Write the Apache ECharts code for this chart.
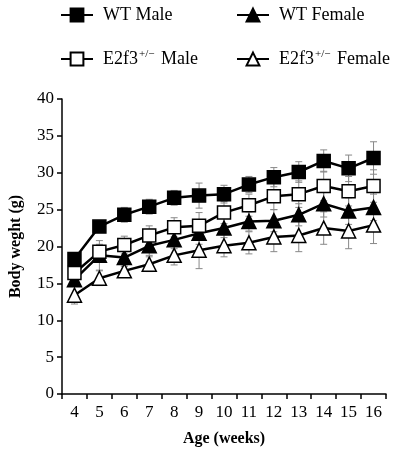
<!DOCTYPE html>
<html>
<head>
<meta charset="utf-8">
<script src="https://cdn.jsdelivr.net/npm/echarts@6/dist/echarts.min.js"></script>
<style>
  html, body { margin: 0; padding: 0; background: #fff; }
  #chart { width: 398px; height: 453px; }
</style>
</head>
<body>
<div id="chart"></div>
<script>
const weeks = ['4', '5', '6', '7', '8', '9', '10', '11', '12', '13', '14', '15', '16'];

const wtMale = [18.3, 22.7, 24.3, 25.4, 26.6, 26.9, 27.1, 28.4, 29.4, 30.1, 31.6, 30.6, 32.0];
const wtMaleErr = [0.6, 0.8, 1.0, 1.0, 1.0, 1.7, 1.2, 1.1, 1.3, 1.4, 1.5, 1.8, 2.2];

const koMale = [16.4, 19.3, 20.2, 21.5, 22.6, 22.8, 24.6, 25.6, 26.8, 27.1, 28.2, 27.5, 28.2];
const koMaleErr = [0.6, 1.0, 1.2, 1.3, 1.3, 1.8, 1.5, 1.5, 1.8, 1.8, 2.0, 2.0, 2.2];

const wtFemale = [15.5, 18.8, 18.5, 20.1, 20.9, 21.8, 22.5, 23.4, 23.5, 24.3, 25.8, 24.8, 25.3];
const wtFemaleErr = [0.8, 2.0, 1.2, 1.3, 1.2, 1.5, 1.3, 1.3, 1.5, 1.5, 1.8, 1.8, 1.8];

const koFemale = [13.4, 15.7, 16.7, 17.6, 18.8, 19.5, 20.1, 20.5, 21.3, 21.5, 22.5, 22.1, 22.9];
const koFemaleErr = [1.2, 1.0, 0.8, 1.0, 1.3, 2.5, 1.5, 1.5, 2.0, 2.2, 2.2, 2.4, 2.5];

const yTicks = [0, 5, 10, 15, 20, 25, 30, 35, 40];

const FONT = 'Liberation Serif';

function errData(vals, errs) {
    return vals.map((v, i) => [i, v - errs[i], v + errs[i]]);
}

function errSeries(vals, errs) {
    return {
        type: 'custom',
        silent: true,
        z: 1,
        data: errData(vals, errs),
        renderItem: function (params, api) {
            const lo = api.coord([api.value(0), api.value(1)]);
            const hi = api.coord([api.value(0), api.value(2)]);
            const w = 3.5;
            const style = {stroke: '#888', lineWidth: 1};
            return {
                type: 'group',
                children: [
                    {type: 'line', shape: {x1: lo[0], y1: lo[1], x2: hi[0], y2: hi[1]}, style: style},
                    {type: 'line', shape: {x1: lo[0] - w, y1: lo[1], x2: lo[0] + w, y2: lo[1]}, style: style},
                    {type: 'line', shape: {x1: hi[0] - w, y1: hi[1], x2: hi[0] + w, y2: hi[1]}, style: style}
                ]
            };
        }
    };
}

function lineSeries(name, vals, symbol, fill, size) {
    return {
        name: name,
        type: 'line',
        data: vals,
        z: 5,
        symbol: symbol,
        symbolSize: size,
        showAllSymbol: true,
        lineStyle: {color: '#000', width: 2.5},
        itemStyle: {color: fill, borderColor: '#000', borderWidth: 1.5},
        emphasis: {disabled: true},
        animation: false
    };
}

const richText = {
    a: {fontFamily: FONT, fontSize: 18, color: '#000'},
    first: {fontFamily: FONT, fontSize: 18, color: '#000', padding: [0, 0, 0, 5]},
    sup: {fontFamily: FONT, fontSize: 11, color: '#000', verticalAlign: 'bottom', padding: [0, 2, 9, 1]}
};

function legendFor(name, left, top) {
    return {
        data: [name],
        left: left,
        top: top,
        itemWidth: 32,
        itemHeight: 16,
        itemGap: 10,
        selectedMode: false,
        textStyle: {rich: richText},
        formatter: function (n) {
            if (n.indexOf('E2f3') === 0) {
                return '{first|E2f3}{sup|+/\u2212}{a|' + n.slice(4) + '}';
            }
            return '{first|' + n + '}';
        }
    };
}

const chart = echarts.init(document.getElementById('chart'), null, {renderer: 'canvas'});

chart.setOption({
    animation: false,
    backgroundColor: '#fff',
    legend: [
        legendFor('WT Male', 55, 1),
        legendFor('WT Female', 231, 1),
        legendFor('E2f3 Male', 55, 44),
        legendFor('E2f3 Female', 231, 44)
    ],
    grid: {left: 58, right: 12, top: 99, bottom: 59},
    xAxis: {
        type: 'category',
        data: weeks,
        boundaryGap: true,
        name: 'Age (weeks)',
        nameLocation: 'middle',
        nameGap: 37,
        nameTextStyle: {fontFamily: FONT, fontSize: 16, fontWeight: 'bold', color: '#000'},
        axisLine: {lineStyle: {color: '#000', width: 1.5}},
        axisTick: {show: true, length: 5, lineStyle: {color: '#000', width: 1.5}},
        axisLabel: {fontFamily: FONT, fontSize: 17, color: '#000', margin: 10},
        splitLine: {show: false}
    },
    yAxis: {
        type: 'value',
        min: yTicks[0],
        max: yTicks[yTicks.length - 1],
        interval: 5,
        name: 'Body weght (g)',
        nameLocation: 'middle',
        nameGap: 38,
        nameTextStyle: {fontFamily: FONT, fontSize: 16, fontWeight: 'bold', color: '#000'},
        axisLine: {show: true, lineStyle: {color: '#000', width: 1.5}},
        axisTick: {show: true, length: 5, lineStyle: {color: '#000', width: 1.5}},
        axisLabel: {fontFamily: FONT, fontSize: 17, color: '#000', margin: 8},
        splitLine: {show: false}
    },
    series: [
        errSeries(wtMale, wtMaleErr),
        errSeries(koMale, koMaleErr),
        errSeries(wtFemale, wtFemaleErr),
        errSeries(koFemale, koFemaleErr),
        lineSeries('WT Male', wtMale, 'rect', '#000', 13),
        lineSeries('WT Female', wtFemale, 'triangle', '#000', 14),
        lineSeries('E2f3 Male', koMale, 'rect', '#fff', 13),
        lineSeries('E2f3 Female', koFemale, 'triangle', '#fff', 14)
    ]
});
</script>
</body>
</html>
